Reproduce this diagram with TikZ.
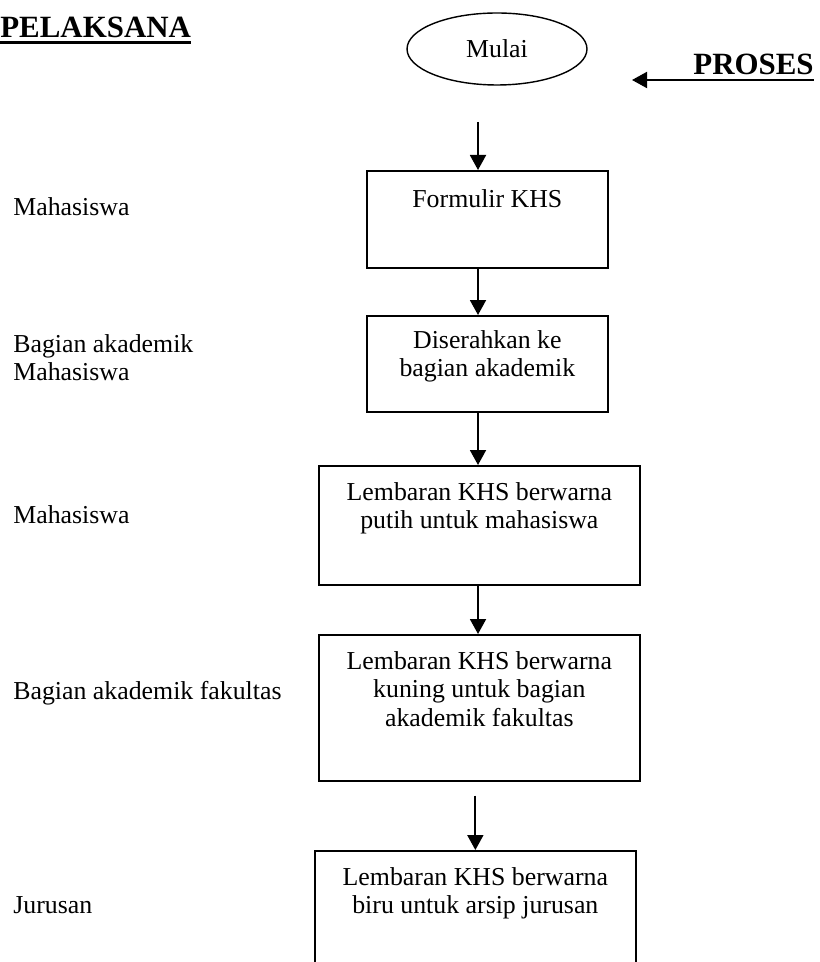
\documentclass[tikz,border=0pt]{standalone}
\usepackage{fontspec}
\setmainfont{Liberation Serif}
\usetikzlibrary{arrows.meta,shapes.geometric}

\tikzset{
  kotak/.style={draw, line width=1pt, inner sep=0pt, anchor=north west},
  panah/.style={line width=1.1pt, -{Triangle[length=0.3cm,width=0.32cm]}},
  ket/.style={inner sep=0pt, anchor=base west},
  judul/.style={inner sep=0pt, anchor=base west, font=\fontsize{17.6}{20}\selectfont\bfseries}
}

\begin{document}
\begin{tikzpicture}[x=0.02cm, y=-0.02cm, font=\fontsize{14.7}{16}\selectfont]
        \useasboundingbox (0,0) rectangle (819,962);
        \clip (0,0) rectangle (819,962);

        % judul
        \node[judul] (pelaksana) at (0,38) {PELAKSANA};
        \draw[line width=1.7pt] ([yshift=-0.1cm]pelaksana.base west) -- ([yshift=-0.1cm]pelaksana.base east);

        \node[judul] (proses) at (693,75) {PROSES};
        \draw[line width=1.7pt] ([yshift=-0.1cm]proses.base west) -- ([yshift=-0.1cm]proses.base east);
        \coordinate (ujung) at (632,80);
        \draw[panah] ([yshift=-0.1cm]proses.base west) -- (ujung);

        \node[draw, ellipse, line width=0.8pt, minimum width=3.6cm, minimum height=1.44cm] (mulai) at (497,49) {Mulai};

        % kotak proses
        \node[kotak] (formulir) at (366,170) {\parbox[t][1.94cm][t]{4.82cm}{\vspace*{0.38cm}\centering Formulir KHS}};
        \node[kotak] (serah) at (366,315) {\parbox[t][1.92cm][t]{4.82cm}{\vspace*{0.3cm}\centering Diserahkan ke\\bagian akademik}};
        \node[kotak] (putih) at (318,465) {\parbox[t][2.38cm][t]{6.42cm}{\vspace*{0.34cm}\centering Lembaran KHS berwarna\\putih untuk mahasiswa}};
        \node[kotak] (kuning) at (318,634) {\parbox[t][2.92cm][t]{6.42cm}{\vspace*{0.34cm}\centering Lembaran KHS berwarna\\kuning untuk bagian\\akademik fakultas}};
        \node[kotak] (biru) at (314,850) {\parbox[t][2.8cm][t]{6.42cm}{\vspace*{0.34cm}\centering Lembaran KHS berwarna\\biru untuk arsip jurusan}};

        \coordinate (jalur) at (478,122);
        \draw[panah] (jalur) -- (jalur |- formulir.north);
        \draw[panah] (formulir.south -| jalur) -- (serah.north -| jalur);
        \draw[panah] (serah.south -| jalur) -- (putih.north -| jalur);
        \draw[panah] (putih.south -| jalur) -- (kuning.north -| jalur);
        \draw[panah, shorten <=0.28cm] (kuning.south -| biru.north) -- (biru.north);

        % pelaksana
        \node[ket] (mhs1) at (13,216) {Mahasiswa};
        \node[ket, anchor=north west, align=left] (akademik) at (13,334) {Bagian akademik\\Mahasiswa};
        \node[ket] (mhs2) at (13,523) {Mahasiswa};
        \node[ket] (fakultas) at (13,699) {Bagian akademik fakultas};
        \node[ket] (jurusan) at (13,913) {Jurusan};
\end{tikzpicture}
\end{document}
